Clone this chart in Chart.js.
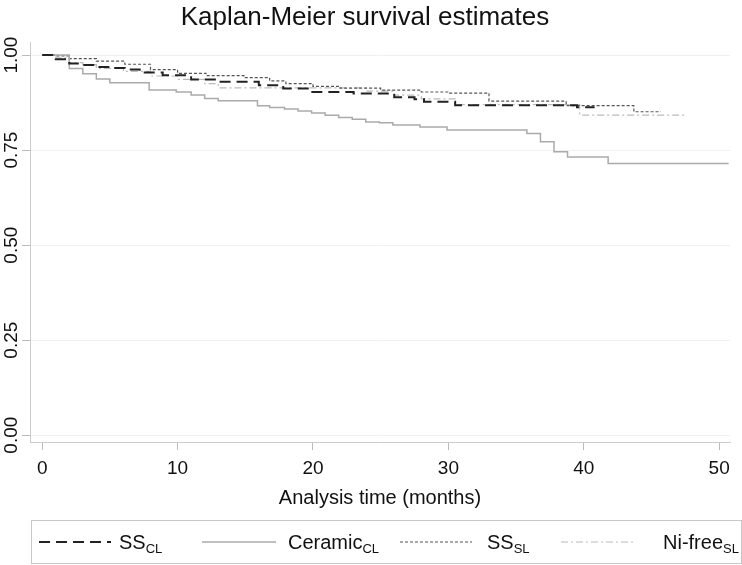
<!DOCTYPE html>
<html>
<head>
<meta charset="utf-8">
<script src="https://cdn.jsdelivr.net/npm/chart.js@4.4.1/dist/chart.umd.min.js"></script>
<style>
html, body { margin: 0; padding: 0; background: #fff; }
#wrap { position: relative; width: 742px; height: 565px; }
#legenda { position: absolute; left: 31px; top: 520px; width: 709px; height: 42px; border: 1px solid #c8c8c8;
  font-family: 'Liberation Sans', Arial, sans-serif; font-size: 20px; color: #111; }
#legenda svg, #legenda span { position: absolute; }
#legenda svg { top: 18px; }
#legenda span { top: 0; line-height: 42px; white-space: nowrap; }
#legenda sub { font-size: 13px; vertical-align: -4px; line-height: 0; }
</style>
</head>
<body>
<div id="wrap">
  <canvas id="graficoKM" width="742" height="565"></canvas>
  <div id="legenda">
    <svg style="left:7px" width="72" height="6"><line x1="0" y1="3" x2="72" y2="3" stroke="#222" stroke-width="2" stroke-dasharray="11 6"/></svg>
    <span style="left:87px">SS<sub>CL</sub></span>
    <svg style="left:170px" width="74" height="6"><line x1="0" y1="3" x2="74" y2="3" stroke="#aaa" stroke-width="1.5"/></svg>
    <span style="left:256px">Ceramic<sub>CL</sub></span>
    <svg style="left:368px" width="72" height="6"><line x1="0" y1="3" x2="72" y2="3" stroke="#555" stroke-width="1.2" stroke-dasharray="3 2"/></svg>
    <span style="left:455px">SS<sub>SL</sub></span>
    <svg style="left:529px" width="72" height="6"><line x1="0" y1="3" x2="72" y2="3" stroke="#bbb" stroke-width="1.2" stroke-dasharray="7 3 2 3"/></svg>
    <span style="left:631px">Ni-free<sub>SL</sub></span>
  </div>
</div>
<script>
// valores (tempo em meses, sobrevida estimada)
const tempoSSCL = [0, 1, 2, 3, 4, 5, 6.1, 7.2, 8.9, 11, 13, 16, 17.8, 19.7, 23, 26, 27.5, 28.2, 30.5, 39.5, 40.8];
const survSSCL  = [1, 0.989, 0.978, 0.974, 0.969, 0.966, 0.962, 0.954, 0.947, 0.936, 0.930, 0.921, 0.912, 0.903, 0.899, 0.889, 0.884, 0.877, 0.868, 0.863, 0.863];

const tempoCeramic = [0, 2, 3, 4, 5, 7.9, 9.9, 11, 12, 13, 15.9, 16.8, 17.9, 18.9, 19.9, 20.9, 21.9, 22.9, 23.9, 24.9, 25.9, 27.9, 29.9, 35.8, 36.8, 37.8, 38.8, 41.8, 50.7];
const survCeramic  = [1, 0.965, 0.951, 0.937, 0.927, 0.908, 0.903, 0.895, 0.886, 0.880, 0.867, 0.862, 0.858, 0.853, 0.848, 0.842, 0.836, 0.831, 0.824, 0.822, 0.816, 0.811, 0.803, 0.794, 0.772, 0.746, 0.732, 0.715, 0.715];

const tempoSSSL = [0, 1, 2, 4, 6.1, 8, 10, 12.1, 14.9, 16.8, 18, 20, 22, 25, 28, 30, 33, 38.7, 43.7, 45.7];
const survSSSL  = [1, 0.998, 0.991, 0.984, 0.976, 0.962, 0.952, 0.946, 0.941, 0.932, 0.925, 0.918, 0.913, 0.908, 0.903, 0.900, 0.879, 0.867, 0.851, 0.851];

const tempoNiFree = [0, 1, 2, 3, 4, 6, 8, 10, 12, 13, 24, 26, 28, 30.5, 39.7, 47.5];
const survNiFree  = [1, 0.993, 0.980, 0.975, 0.965, 0.957, 0.945, 0.936, 0.925, 0.914, 0.905, 0.895, 0.885, 0.870, 0.842, 0.842];

const ticksX = [0, 10, 20, 30, 40, 50];
const ticksY = [0, 0.25, 0.5, 0.75, 1];

function pontos(tempo, surv) {
    return tempo.map((t, i) => ({ x: t, y: surv[i] }));
}

Chart.defaults.font.family = "'Liberation Sans', Arial, sans-serif";
Chart.defaults.color = '#111';

const graficoKM = document.getElementById('graficoKM');

new Chart(graficoKM, {
    type: 'line',
    data: {
        datasets: [{
            label: 'SS CL',
            data: pontos(tempoSSCL, survSSCL),
            borderColor: '#222',
            borderWidth: 2,
            borderDash: [11, 6],
            stepped: 'before',
            pointRadius: 0
        }, {
            label: 'Ceramic CL',
            data: pontos(tempoCeramic, survCeramic),
            borderColor: '#aaa',
            borderWidth: 1.5,
            stepped: 'before',
            pointRadius: 0
        }, {
            label: 'SS SL',
            data: pontos(tempoSSSL, survSSSL),
            borderColor: '#555',
            borderWidth: 1.2,
            borderDash: [3, 2],
            stepped: 'before',
            pointRadius: 0
        }, {
            label: 'Ni-free SL',
            data: pontos(tempoNiFree, survNiFree),
            borderColor: '#bbb',
            borderWidth: 1.2,
            borderDash: [7, 3, 2, 3],
            stepped: 'before',
            pointRadius: 0
        }]
    },
    options: {
        responsive: false,
        animation: false,
        layout: { padding: { left: 0, right: 12, top: 0, bottom: 43 } },
        plugins: {
            legend: { display: false },
            tooltip: { enabled: false },
            title: {
                display: true,
                text: 'Kaplan-Meier survival estimates',
                font: { size: 26, weight: 'normal' },
                color: '#111',
                padding: { top: 2, bottom: 9 }
            }
        },
        scales: {
            x: {
                type: 'linear',
                min: -0.9,
                max: 50.8,
                afterBuildTicks: s => { s.ticks = ticksX.map(v => ({ value: v })); },
                afterFit: s => { s.height = 80; },
                grid: { drawOnChartArea: false, tickLength: 8, color: '#bbb' },
                border: { color: '#ccc' },
                ticks: { font: { size: 19 }, color: '#111', padding: 7, maxRotation: 0 },
                title: {
                    display: true,
                    text: 'Analysis time (months)',
                    font: { size: 20 },
                    color: '#111',
                    padding: { top: 0, bottom: 12 }
                }
            },
            y: {
                type: 'linear',
                min: -0.018,
                max: 1.034,
                afterBuildTicks: s => { s.ticks = ticksY.map(v => ({ value: v })); },
                afterFit: s => { s.width = 30; },
                grid: { color: '#f0f0f0', tickColor: '#bbb', tickLength: 8 },
                border: { color: '#ccc' },
                ticks: {
                    font: { size: 19 },
                    color: '#111',
                    minRotation: 90,
                    maxRotation: 90,
                    crossAlign: 'center',
                    padding: -8,
                    callback: v => v.toFixed(2)
                }
            }
        }
    }
});
</script>
</body>
</html>
